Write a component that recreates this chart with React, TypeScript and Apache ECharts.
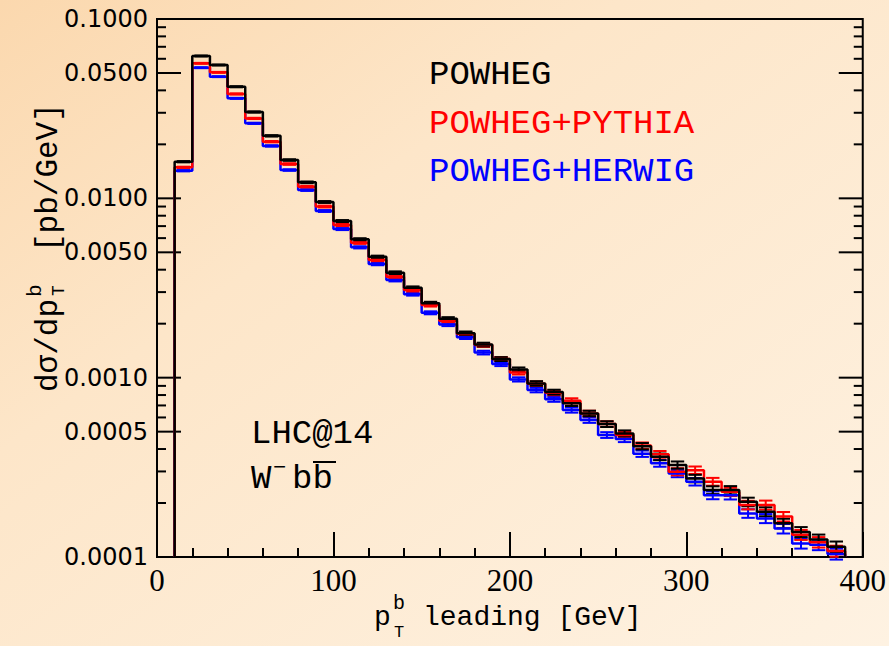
import React, { useEffect, useRef } from "react";
import * as echarts from "echarts";

// bin edges in GeV (pT leading b)
const binEdges = [10, 20, 30, 40, 50, 60, 70, 80, 90, 100, 110, 120, 130, 140, 150, 160, 170, 180, 190, 200, 210, 220, 230, 240, 250, 260, 270, 280, 290, 300, 310, 320, 330, 340, 350, 360, 370, 380, 390];

const powheg = [0.0160, 0.0622, 0.0554, 0.0419, 0.0303, 0.0223, 0.01635, 0.01228, 0.00954, 0.00747, 0.00591, 0.00472, 0.00385, 0.00317, 0.00260, 0.00213, 0.00177, 0.00153, 0.00127, 0.00111, 0.000929, 0.000831, 0.000719, 0.000632, 0.000551, 0.000489, 0.000415, 0.000362, 0.000326, 0.000274, 0.000236, 0.000236, 0.000203, 0.000179, 0.000154, 0.000138, 0.000125, 0.000114];
const pythia = [0.01489, 0.0566, 0.0504, 0.0382, 0.0279, 0.0207, 0.01553, 0.01161, 0.00900, 0.00710, 0.00565, 0.00453, 0.00365, 0.00308, 0.00254, 0.00208, 0.00175, 0.00152, 0.00127, 0.00107, 0.000926, 0.000824, 0.000743, 0.000632, 0.000551, 0.000479, 0.000418, 0.000374, 0.000299, 0.000305, 0.000263, 0.000231, 0.000195, 0.000195, 0.000168, 0.000133, 0.000121, 0.000108];
const herwig = [0.01425, 0.0535, 0.0477, 0.0361, 0.0262, 0.0196, 0.01438, 0.01112, 0.00850, 0.00674, 0.00533, 0.00430, 0.00350, 0.00292, 0.00230, 0.00198, 0.00168, 0.00138, 0.00119, 0.000978, 0.000853, 0.000757, 0.000660, 0.000580, 0.000479, 0.000455, 0.000377, 0.000333, 0.000292, 0.000263, 0.000221, 0.000221, 0.000175, 0.000164, 0.000144, 0.000119, 0.000117, 0.000104];
// relative statistical error per bin (estimated)
const relErr = [0.008, 0.006, 0.006, 0.007, 0.008, 0.009, 0.010, 0.011, 0.012, 0.013, 0.014, 0.015, 0.017, 0.018, 0.019, 0.021, 0.022, 0.024, 0.025, 0.027, 0.029, 0.031, 0.033, 0.035, 0.037, 0.039, 0.041, 0.043, 0.046, 0.048, 0.050, 0.053, 0.055, 0.058, 0.061, 0.064, 0.067, 0.070];

const seriesNames = ["POWHEG", "POWHEG+PYTHIA", "POWHEG+HERWIG"];
const seriesColors = ["#000000", "#ff0000", "#0000ff"];

const yMin = 0.0001;
const yMax = 0.1;
const yMajorTicks = [0.1, 0.05, 0.01, 0.005, 0.001, 0.0005, 0.0001];
const yDecades = [0.01, 0.001, 0.0001];
const yMinorMult = [2, 3, 4, 6, 7, 8, 9];

const MONO = "'Liberation Mono', 'DejaVu Sans Mono', monospace";

function stepPoints(vals: number[]) {
  const pts: number[][] = [[binEdges[0], yMin]];
  vals.forEach((v, i) => {
    pts.push([binEdges[i], v]);
    pts.push([binEdges[i + 1], v]);
  });
  pts.push([binEdges[binEdges.length - 1], yMin]);
  return pts;
}

function lineSeries(name: string, vals: number[], color: string) {
  return {
    name,
    type: "line",
    data: stepPoints(vals),
    showSymbol: false,
    symbol: "none",
    lineStyle: { color, width: 2.5 },
    itemStyle: { color },
    silent: true,
  };
}

function errSeries(name: string, vals: number[], color: string) {
  return {
    name: name + " err",
    type: "custom",
    data: vals.map((v, i) => [binEdges[i], binEdges[i + 1], v, relErr[i]]),
    encode: { x: [0, 1], y: 2 },
    silent: true,
    renderItem: (params: any, api: any) => {
      const x0 = api.value(0);
      const x1 = api.value(1);
      const v = api.value(2);
      const e = api.value(3);
      const pHi = api.coord([x0, v * (1 + e)]);
      const pLo = api.coord([x0, v * (1 - e)]);
      const pR = api.coord([x1, v]);
      const w = pR[0] - pHi[0];
      const xa = pHi[0] + 0.12 * w;
      const xb = pR[0] - 0.12 * w;
      const xc = (pHi[0] + pR[0]) / 2;
      const st = { stroke: color, lineWidth: 2 };
      return {
        type: "group",
        children: [
          { type: "line", shape: { x1: xc, y1: pHi[1], x2: xc, y2: pLo[1] }, style: st },
          { type: "line", shape: { x1: xa, y1: pHi[1], x2: xb, y2: pHi[1] }, style: st },
          { type: "line", shape: { x1: xa, y1: pLo[1], x2: xb, y2: pLo[1] }, style: st },
        ],
      };
    },
  };
}

function yTickSeries() {
  const ticks: number[][] = yMajorTicks.map((v) => [0, v, 1]);
  yDecades.forEach((d) => yMinorMult.forEach((m) => ticks.push([0, d * m, 0])));
  return {
    name: "yticks",
    type: "custom",
    data: ticks,
    encode: { x: 0, y: 1 },
    clip: false,
    silent: true,
    renderItem: (params: any, api: any) => {
      const v = api.value(1);
      const major = api.value(2) === 1;
      const pl = api.coord([0, v]);
      const pr = api.coord([400, v]);
      const len = major ? 24 : 9;
      const st = { stroke: "#000", lineWidth: 2 };
      const children: any[] = [
        { type: "line", shape: { x1: pl[0], y1: pl[1], x2: pl[0] + len, y2: pl[1] }, style: st },
        { type: "line", shape: { x1: pr[0] - len, y1: pr[1], x2: pr[0], y2: pr[1] }, style: st },
      ];
      if (major) {
        children.push({
          type: "text",
          x: pl[0] - 9,
          y: pl[1],
          style: {
            text: v.toFixed(4),
            fill: "#000",
            fontFamily: "'DejaVu Sans', sans-serif",
            fontSize: 24,
            align: "right",
            verticalAlign: "middle",
          },
        });
      }
      return { type: "group", children };
    },
  };
}

function txt(text: string, x: number, y: number, size: number, color = "#000", extra: any = {}) {
  return {
    type: "text",
    x,
    y,
    silent: true,
    style: { text, fill: color, fontFamily: MONO, fontSize: size, verticalAlign: "middle", align: "left", ...extra },
  };
}

export default function App() {
  const ref = useRef<HTMLDivElement>(null);
  useEffect(() => {
    if (!ref.current) return;
    const chart = echarts.init(ref.current, undefined, { renderer: "svg" });
    const option: any = {
      animation: false,
      backgroundColor: new echarts.graphic.LinearGradient(0, 0, 1, 1, [
        { offset: 0, color: "#fbd8ae" },
        { offset: 0.35, color: "#fde6c9" },
        { offset: 1, color: "#fef2e2" },
      ]),
      grid: {
        left: 157,
        top: 19,
        right: 26,
        bottom: 89,
        show: true,
        borderColor: "#000",
        borderWidth: 2,
        backgroundColor: "transparent",
      },
      xAxis: {
        type: "value",
        min: 0,
        max: 400,
        interval: 100,
        axisLine: { show: true, lineStyle: { color: "#000", width: 2 } },
        axisTick: { show: true, inside: true, length: 25, lineStyle: { color: "#000", width: 2 } },
        minorTick: { show: true, splitNumber: 5, length: 9, lineStyle: { color: "#000", width: 2 } },
        splitLine: { show: false },
        axisLabel: {
          color: "#000",
          fontFamily: "'Liberation Serif', serif",
          fontSize: 31,
          margin: 8,
        },
      },
      yAxis: {
        type: "log",
        logBase: 10,
        min: yMin,
        max: yMax,
        axisLine: { show: true, lineStyle: { color: "#000", width: 2 } },
        axisTick: { show: false },
        axisLabel: { show: false },
        splitLine: { show: false },
      },
      series: [
        lineSeries(seriesNames[2], herwig, seriesColors[2]),
        errSeries(seriesNames[2], herwig, seriesColors[2]),
        lineSeries(seriesNames[1], pythia, seriesColors[1]),
        errSeries(seriesNames[1], pythia, seriesColors[1]),
        lineSeries(seriesNames[0], powheg, seriesColors[0]),
        errSeries(seriesNames[0], powheg, seriesColors[0]),
        yTickSeries(),
      ],
      graphic: [
        txt(seriesNames[0], 429, 75, 34, seriesColors[0]),
        txt(seriesNames[1], 429, 123.5, 34, seriesColors[1]),
        txt(seriesNames[2], 429, 171.5, 34, seriesColors[2]),
        txt("LHC@14", 251, 434, 34),
        txt("W", 251, 479, 34),
        txt("\u2212", 273, 468, 22),
        txt("bb", 292, 479, 34),
        { type: "line", silent: true, shape: { x1: 313, y1: 462, x2: 336, y2: 462 }, style: { stroke: "#000", lineWidth: 2 } },
        // x-axis title
        txt("p", 374, 617, 28),
        txt("b", 393, 603, 20),
        txt("T", 394, 632, 17),
        txt("leading [GeV]", 423, 617, 28),
        // y-axis title (rotated)
        {
          type: "group",
          x: 0,
          y: 0,
          rotation: Math.PI / 2,
          children: [
            txt("d\u03c3/dp", -392, 48, 31),
            txt("b", -297, 35, 21),
            txt("T", -296, 59, 18),
            txt("[pb/GeV]", -252, 48, 31),
          ],
        },
      ],
    };
    chart.setOption(option);
    return () => chart.dispose();
  }, []);
  return <div ref={ref} style={{ position: "absolute", left: 0, top: 0, width: 889, height: 646 }} />;
}
